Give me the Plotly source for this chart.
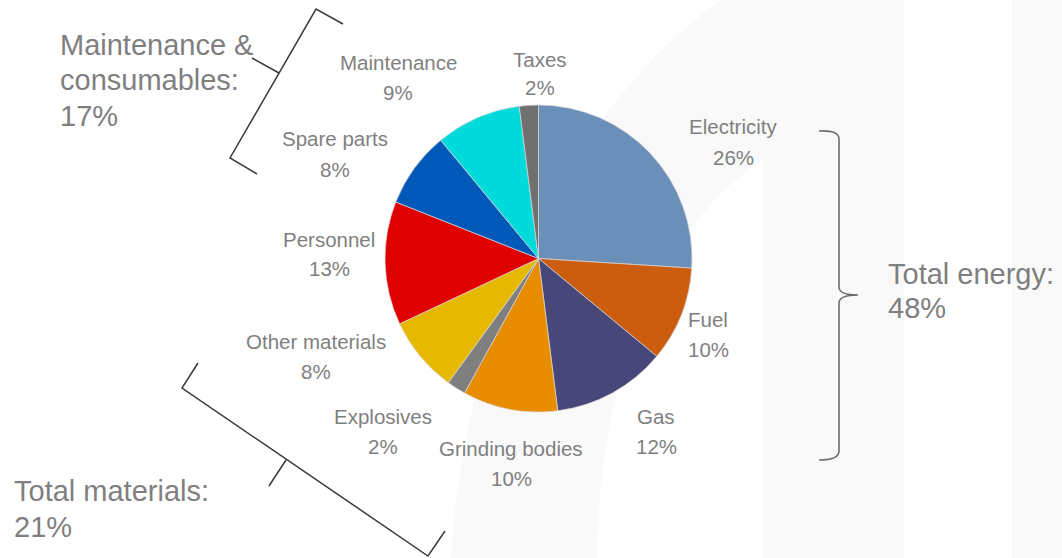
import plotly.graph_objects as go

W, H = 1062, 558

# ---- data ----
categories = ["Electricity", "Fuel", "Gas", "Grinding bodies", "Explosives",
              "Other materials", "Personnel", "Spare parts", "Maintenance", "Taxes"]
shares = [26, 10, 12, 10, 2, 8, 13, 8, 9, 2]

group_names = ["Total energy:", "Total materials:", "Maintenance &\nconsumables:"]
group_totals = [48, 21, 17]

# ---- styles / layout ----
slice_colors = ["#6a8fb8", "#cc5c0e", "#47477a", "#e88c00", "#7f7f7f",
                "#e6b800", "#e00000", "#0058b8", "#00dada", "#707070"]

# label centre positions in pixels: (x, y of name line, y of percent line)
label_pos = [(733, 127, 157), (708, 319, 349), (656, 416, 446), (511, 448, 478),
             (383, 416, 446), (316, 341, 371), (329, 239, 269), (335, 139, 169),
             (398, 62, 92), (540, 59, 88)]
# group label: left x, first line centre y, line step
group_pos = [(886, 274, 34), (12, 491, 36), (58, 45, 35.5)]

TEXT = "#7f7f7f"
FONT = "Liberation Sans, Arial, sans-serif"

cx, cy, r = 538.5, 258.5, 153.5


def px(x):
    return x / W


def py(y):
    return 1 - y / H


def path(cmds):
    out = []
    for c in cmds:
        if isinstance(c, str):
            out.append(c)
        else:
            out.append(f"{px(c[0]):.5f},{py(c[1]):.5f}")
    return " ".join(out)


fig = go.Figure()
fig.add_trace(go.Pie(
    labels=categories, values=shares, sort=False, direction="clockwise",
    rotation=0, textinfo="none", hoverinfo="label+percent",
    marker=dict(colors=slice_colors, line=dict(color="rgba(215,215,215,0.9)", width=0.8)),
    domain=dict(x=[px(cx - r), px(cx + r)], y=[py(cy + r), py(cy - r)]),
    showlegend=False,
))

annotations = []
for name, val, (x, y1, y2) in zip(categories, shares, label_pos):
    for txt, yy in ((name, y1), (f"{val}%", y2)):
        annotations.append(dict(text=txt, x=px(x), y=py(yy), xref="paper", yref="paper",
                                xanchor="center", yanchor="middle", showarrow=False,
                                font=dict(family=FONT, size=20.5, color=TEXT)))
for name, tot, (x, y0, step) in zip(group_names, group_totals, group_pos):
    lines = name.split("\n") + [f"{tot}%"]
    for i, ln in enumerate(lines):
        annotations.append(dict(text=ln, x=px(x), y=py(y0 + i * step), xref="paper", yref="paper",
                                xanchor="left", yanchor="middle", showarrow=False,
                                font=dict(family=FONT, size=29, color=TEXT)))

shapes = []
BG = "#f9f9f9"
shapes.append(dict(type="path", xref="paper", yref="paper", layer="below",
                   path=path(["M", (451, 558), "C", (465, 330), (560, 120), (720, 0),
                              "L", (904, 0), "L", (904, 558), "L", (763, 558), "L", (763, 160),
                              "C", (690, 205), (600, 330), (597, 558), "Z"]),
                   fillcolor=BG, line=dict(width=0)))
shapes.append(dict(type="rect", xref="paper", yref="paper", layer="below",
                   x0=px(1012), x1=1, y0=0, y1=1, fillcolor=BG, line=dict(width=0)))

# curly brace (energy)
shapes.append(dict(type="path", xref="paper", yref="paper",
                   path=path(["M", (819, 131), "Q", (839, 130), (839, 139), "L", (839, 287),
                              "Q", (839, 295), (858, 295), "Q", (839, 295), (839, 303),
                              "L", (839, 451), "Q", (839, 460), (819, 460)]),
                   line=dict(color="#6e6e6e", width=1.6)))
# bracket (maintenance & consumables)
shapes.append(dict(type="path", xref="paper", yref="paper",
                   path=path(["M", (343, 24), "L", (316, 9), "L", (230, 158), "L", (257, 174),
                              "M", (279, 73), "L", (252, 58)]),
                   line=dict(color="#3a3a3a", width=1.5)))
# bracket (materials)
shapes.append(dict(type="path", xref="paper", yref="paper",
                   path=path(["M", (198, 363), "L", (182, 388), "L", (428, 556), "L", (445, 531),
                              "M", (286, 460), "L", (269, 486)]),
                   line=dict(color="#3a3a3a", width=1.5)))

fig.update_layout(
    width=W, height=H, margin=dict(l=0, r=0, t=0, b=0),
    paper_bgcolor="white", plot_bgcolor="white",
    annotations=annotations, shapes=shapes,
)

fig.write_html("out.html")
